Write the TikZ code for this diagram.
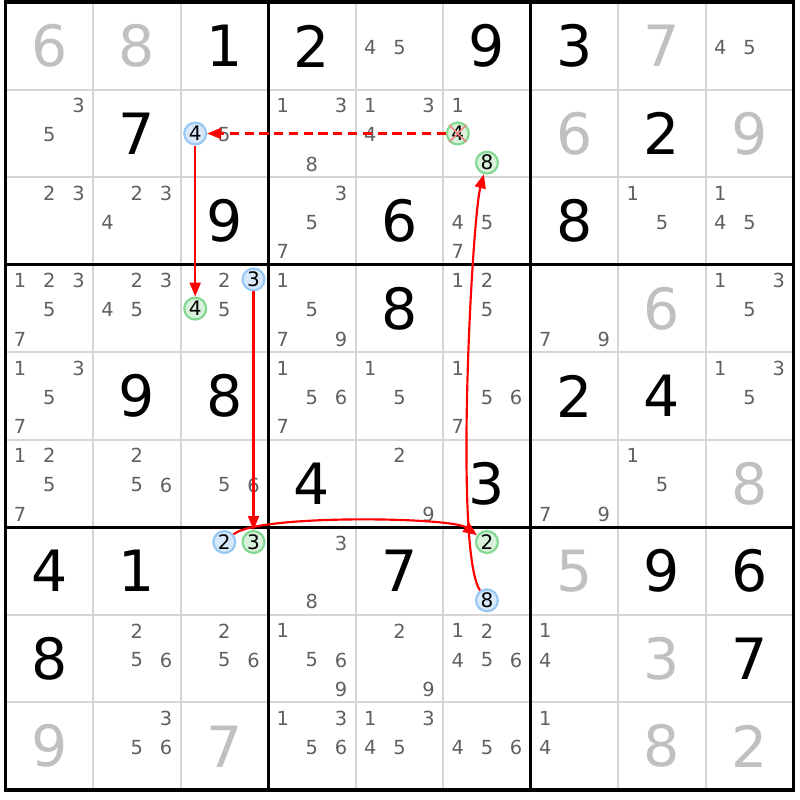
\documentclass[tikz,border=0pt]{standalone}
\usepackage{fontspec}
\setmainfont{DejaVu Sans}
\usetikzlibrary{arrows.meta}

\definecolor{candgray}{RGB}{96,96,96}
\definecolor{solvedgray}{RGB}{192,192,192}
\definecolor{gridgray}{RGB}{214,214,214}
\definecolor{blueedge}{RGB}{150,200,245}
\definecolor{bluefill}{RGB}{214,232,250}
\definecolor{greenedge}{RGB}{130,215,145}
\definecolor{greenfill}{RGB}{216,242,220}
\definecolor{crosspink}{RGB}{240,130,130}

\tikzset{
  cand/.style={font=\fontsize{6.3}{7}\selectfont, text=candgray, inner sep=0pt},
  given/.style={font=\fontsize{18.5}{20}\selectfont, inner sep=0pt},
  solved/.style={given, text=solvedgray},
  bluecand/.style={circle, draw=blueedge, fill=bluefill, line width=0.7pt,
    minimum size=0.25cm, inner sep=0pt, font=\fontsize{6.5}{7}\selectfont},
  greencand/.style={bluecand, draw=greenedge, fill=greenfill},
  link/.style={red, line width=0.7pt, -{Triangle[length=0.16cm,width=0.125cm]}},
  weaklink/.style={link, dash pattern=on 3pt off 1.8pt},
}

\begin{document}
\begin{tikzpicture}[x=1cm, y=-1cm]
  % Fix the page size
  \path[use as bounding box, fill=white] (-0.063,-0.025) rectangle (9.074,9.114);

  % Draw the thin lines between the cells
  \foreach \i in {1,2,4,5,7,8}
    \draw[gridgray, line width=0.65pt] (\i,0) -- (\i,9);
  \foreach \i in {1,2,4,5,7,8}
    \draw[gridgray, line width=0.65pt] (0,\i) -- (9,\i);

  % Draw the thick lines between the boxes
  \foreach \i in {3,6}
    \draw[line width=1pt] (\i,0) -- (\i,9);
  \foreach \i in {3,6}
    \draw[line width=1pt] (0,\i) -- (9,\i);
  \draw[line width=1.2pt] (0,0) rectangle (9,9);

  % Add the given digits
  \foreach \r/\c/\d in {1/3/1, 1/4/2, 1/6/9, 1/7/3, 2/2/7, 2/8/2, 3/3/9, 3/5/6,
      3/7/8, 4/5/8, 5/2/9, 5/3/8, 5/7/2, 5/8/4, 6/4/4, 6/6/3, 7/1/4, 7/2/1,
      7/5/7, 7/8/9, 7/9/6, 8/1/8, 8/9/7}
    \node[given] (g\r\c) at (\c-0.5,\r-0.5) {\d};

  % Add the solved digits
  \foreach \r/\c/\d in {1/1/6, 1/2/8, 1/8/7, 2/7/6, 2/9/9, 4/8/6, 6/9/8, 7/7/5,
      8/8/3, 9/1/9, 9/3/7, 9/8/8, 9/9/2}
    \node[solved] (s\r\c) at (\c-0.5,\r-0.5) {\d};

  % Add the candidates in the empty cells
  \foreach \r/\c/\cands in {1/5/{4,5}, 1/9/{4,5},
      2/1/{3,5}, 2/3/{5}, 2/4/{1,3,8}, 2/5/{1,3,4}, 2/6/{1},
      3/1/{2,3}, 3/2/{2,3,4}, 3/4/{3,5,7}, 3/6/{4,5,7}, 3/8/{1,5}, 3/9/{1,4,5},
      4/1/{1,2,3,5,7}, 4/2/{2,3,4,5}, 4/3/{2,5}, 4/4/{1,5,7,9}, 4/6/{1,2,5},
      4/7/{7,9}, 4/9/{1,3,5},
      5/1/{1,3,5,7}, 5/4/{1,5,6,7}, 5/5/{1,5}, 5/6/{1,5,6,7}, 5/9/{1,3,5},
      6/1/{1,2,5,7}, 6/2/{2,5,6}, 6/3/{5,6}, 6/5/{2,9}, 6/7/{7,9}, 6/8/{1,5},
      7/4/{3,8},
      8/2/{2,5,6}, 8/3/{2,5,6}, 8/4/{1,5,6,9}, 8/5/{2,9}, 8/6/{1,2,4,5,6},
      8/7/{1,4},
      9/2/{3,5,6}, 9/4/{1,3,5,6}, 9/5/{1,3,4,5}, 9/6/{4,5,6}, 9/7/{1,4}}
    \foreach \d in \cands
      \node[cand] (c\r\c\d) at ({\c-1+(2*mod(\d-1,3)+1)/6},
        {\r-1+(2*floor((\d-0.5)/3)+1)/6+0.015}) {\d};

  % Add the marked candidates of the chain
  \node[bluecand]  (r2c3n4) at (2.167,1.5)   {4};
  \node[greencand] (r2c6n4) at (5.167,1.5)   {4};
  \node[greencand] (r2c6n8) at (5.5,1.833)   {8};
  \node[greencand] (r4c3n4) at (2.167,3.5)   {4};
  \node[bluecand]  (r4c3n3) at (2.833,3.167) {3};
  \node[bluecand]  (r7c3n2) at (2.5,6.167)   {2};
  \node[greencand] (r7c3n3) at (2.833,6.167) {3};
  \node[greencand] (r7c6n2) at (5.5,6.167)   {2};
  \node[bluecand]  (r7c6n8) at (5.5,6.833)   {8};

  % Cross out the eliminated candidate
  \draw[crosspink, line width=0.5pt] (r2c6n4.north west) -- (r2c6n4.south east);
  \draw[crosspink, line width=0.5pt] (r2c6n4.north east) -- (r2c6n4.south west);

  % Draw the links of the chain
  \draw[weaklink] (r2c6n4) -- (r2c3n4);
  \draw[link] (r2c3n4) -- (r4c3n4);
  \draw[link] (r4c3n3) -- (r7c3n3);
  \draw[link] (r7c3n2) to[out=40,in=145,looseness=0.33] (r7c6n2);
  \draw[link] (r7c6n8) to[out=125,in=-105,looseness=0.28] (r2c6n8);
\end{tikzpicture}
\end{document}
